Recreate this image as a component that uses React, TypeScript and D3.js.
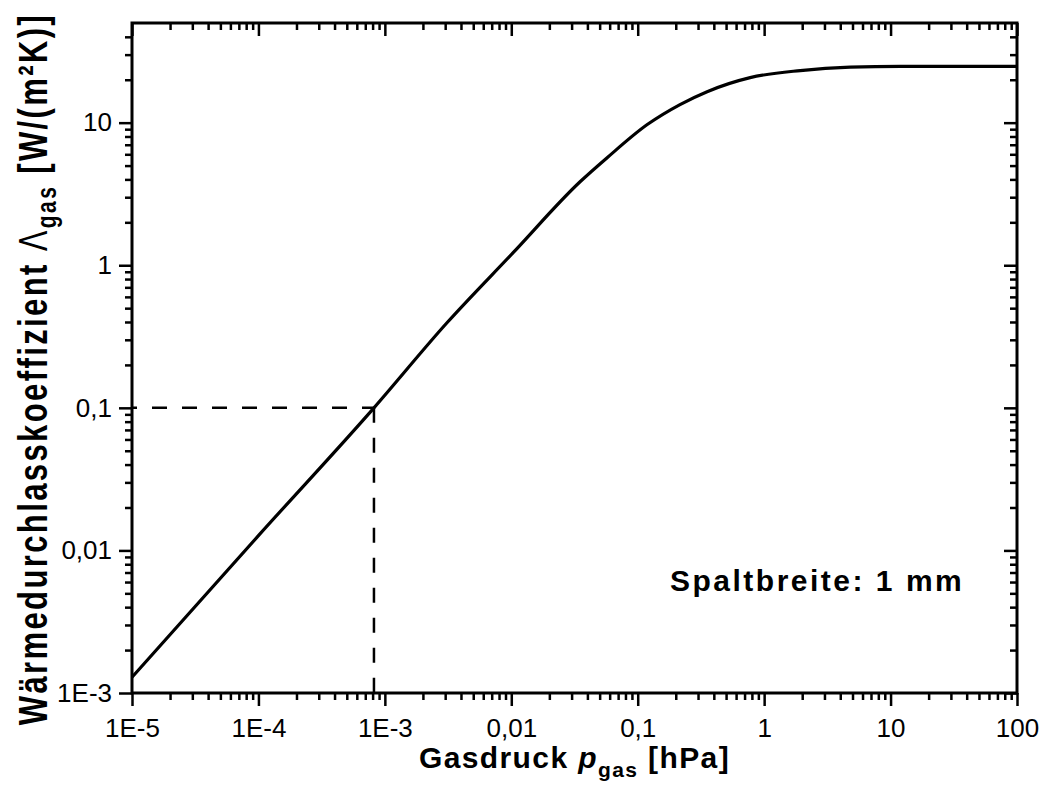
import React, { useEffect, useRef } from "react"
import * as d3 from "d3"

// Gasdruck p_gas [hPa] and Wärmedurchlasskoeffizient Λ_gas [W/(m²K)]
const pressure = [1e-5, 1e-4, 8.2e-4, 3.1e-3, 0.0103, 0.035, 0.0573, 0.119, 0.216, 0.354, 0.775, 1.93, 4.79, 12, 100]
const lambdaGas = [1.29e-3, 0.0127, 0.1, 0.395, 1.22, 3.85, 5.68, 9.7, 13.4, 16.5, 20.7, 23.2, 24.5, 24.8, 24.8]

// dashed guide to the 0,1 W/(m²K) point
const guidePressure = 8.2e-4
const guideLambda = 0.1

const xTickValues = [1e-5, 1e-4, 1e-3, 1e-2, 1e-1, 1, 10, 100]
const xTickLabels = ["1E-5", "1E-4", "1E-3", "0,01", "0,1", "1", "10", "100"]
const yTickValues = [1e-3, 1e-2, 1e-1, 1, 10]
const yTickLabels = ["1E-3", "0,01", "0,1", "1", "10"]

const FONT = "'Liberation Sans', Arial, sans-serif"

const minorTicks = (lo: number, hi: number) => {
	const out: number[] = []
	for (let e = Math.floor(Math.log10(lo)); e <= Math.ceil(Math.log10(hi)); e++) {
		for (let m = 2; m <= 9; m++) {
			const v = m * Math.pow(10, e)
			if (v > lo && v < hi) out.push(v)
		}
	}
	return out
}

const Chart = () => {
	const ref = useRef<SVGSVGElement>(null)

	useEffect(() => {
		document.body.style.margin = "0"
		const width = 1051
		const height = 795
		const left = 132
		const right = 1017
		const top = 23
		const bottom = 693

		const x = d3.scaleLog().domain([1e-5, 100]).range([left, right])
		const y = d3.scaleLog().domain([1e-3, 50]).range([bottom, top])

		const svg = d3.select(ref.current).attr("width", width).attr("height", height)
		svg.selectAll("*").remove()

		// curve
		const pts: [number, number][] = pressure.map((p, i) => [x(p), y(lambdaGas[i])])
		svg
			.append("path")
			.attr("d", d3.line().curve(d3.curveMonotoneX)(pts))
			.attr("fill", "none")
			.attr("stroke", "#000")
			.attr("stroke-width", 3.2)

		// dashed guides
		svg
			.append("line")
			.attr("x1", x(1e-5))
			.attr("x2", x(guidePressure))
			.attr("y1", y(guideLambda))
			.attr("y2", y(guideLambda))
			.attr("stroke", "#000")
			.attr("stroke-width", 2.5)
			.attr("stroke-dasharray", "15,15")
			.attr("stroke-dashoffset", 10)
		svg
			.append("line")
			.attr("x1", x(guidePressure))
			.attr("x2", x(guidePressure))
			.attr("y1", y(guideLambda))
			.attr("y2", y(1e-3))
			.attr("stroke", "#000")
			.attr("stroke-width", 2.5)
			.attr("stroke-dasharray", "15,15")

		// axes
		const xMinor = minorTicks(1e-5, 100)
		const yMinor = minorTicks(1e-3, 50)

		const addAxis = (axis: any, tx: number, ty: number) => {
			const g = svg.append("g").attr("transform", `translate(${tx},${ty})`)
			g.call(axis)
			g.select(".domain").remove()
			g.selectAll("line").attr("stroke", "#000").attr("stroke-width", 2.5)
			g.selectAll("text")
				.style("font-family", FONT)
				.style("font-size", "26px")
				.attr("fill", "#000")
			return g
		}

		// bottom (outward)
		addAxis(
			d3.axisBottom(x).tickValues(xTickValues).tickSize(13).tickPadding(13)
				.tickFormat((_, i) => xTickLabels[i]),
			0, bottom,
		)
		addAxis(d3.axisBottom(x).tickValues(xMinor).tickSize(7).tickFormat(() => ""), 0, bottom)
		// top (inward)
		addAxis(d3.axisTop(x).tickValues(xTickValues).tickSize(-13).tickFormat(() => ""), 0, top)
		addAxis(d3.axisTop(x).tickValues(xMinor).tickSize(-7).tickFormat(() => ""), 0, top)
		// left (outward)
		addAxis(
			d3.axisLeft(y).tickValues(yTickValues).tickSize(13).tickPadding(7)
				.tickFormat((_, i) => yTickLabels[i]),
			left, 0,
		)
		addAxis(d3.axisLeft(y).tickValues(yMinor).tickSize(7).tickFormat(() => ""), left, 0)
		// right (inward)
		addAxis(d3.axisRight(y).tickValues(yTickValues).tickSize(-13).tickFormat(() => ""), right, 0)
		addAxis(d3.axisRight(y).tickValues(yMinor).tickSize(-7).tickFormat(() => ""), right, 0)

		// frame
		svg
			.append("rect")
			.attr("x", left)
			.attr("y", top)
			.attr("width", right - left)
			.attr("height", bottom - top)
			.attr("fill", "none")
			.attr("stroke", "#000")
			.attr("stroke-width", 3)

		// x title
		const xt = svg
			.append("text")
			.attr("x", (left + right) / 2)
			.attr("y", 768)
			.attr("text-anchor", "middle")
			.style("font-family", FONT)
			.style("font-size", "30px")
			.style("font-weight", "bold")
			.style("letter-spacing", "1.4px")
		xt.append("tspan").text("Gasdruck ")
		xt.append("tspan").style("font-style", "italic").text("p")
		xt.append("tspan").attr("dy", 9).style("font-size", "21px").text("gas")
		xt.append("tspan").attr("dy", -9).text(" [hPa]")

		// y title (glyphs in the reference are taller than they are wide)
		const yt = svg
			.append("text")
			.attr("transform", `translate(47,369) rotate(-90) scale(1,1.3)`)
			.attr("text-anchor", "middle")
			.style("font-family", FONT)
			.style("font-size", "31px")
			.style("font-weight", "bold")
			.style("letter-spacing", "2.4px")
		yt.append("tspan").text("Wärmedurchlasskoeffizient ")
		yt.append("tspan").style("font-weight", "normal").text("Λ")
		yt.append("tspan").attr("dy", 7).style("font-size", "21px").text("gas")
		yt.append("tspan").attr("dy", -7).text(" [W/(m²K)]")

		// annotation
		svg
			.append("text")
			.attr("x", 670)
			.attr("y", 591)
			.style("font-family", FONT)
			.style("font-size", "30px")
			.style("font-weight", "bold")
			.style("letter-spacing", "2.5px")
			.text("Spaltbreite: 1 mm")
	}, [])

	return <svg ref={ref} style={{ display: "block", background: "#fff" }}></svg>
}

export default function App() {
	return <Chart />
}
